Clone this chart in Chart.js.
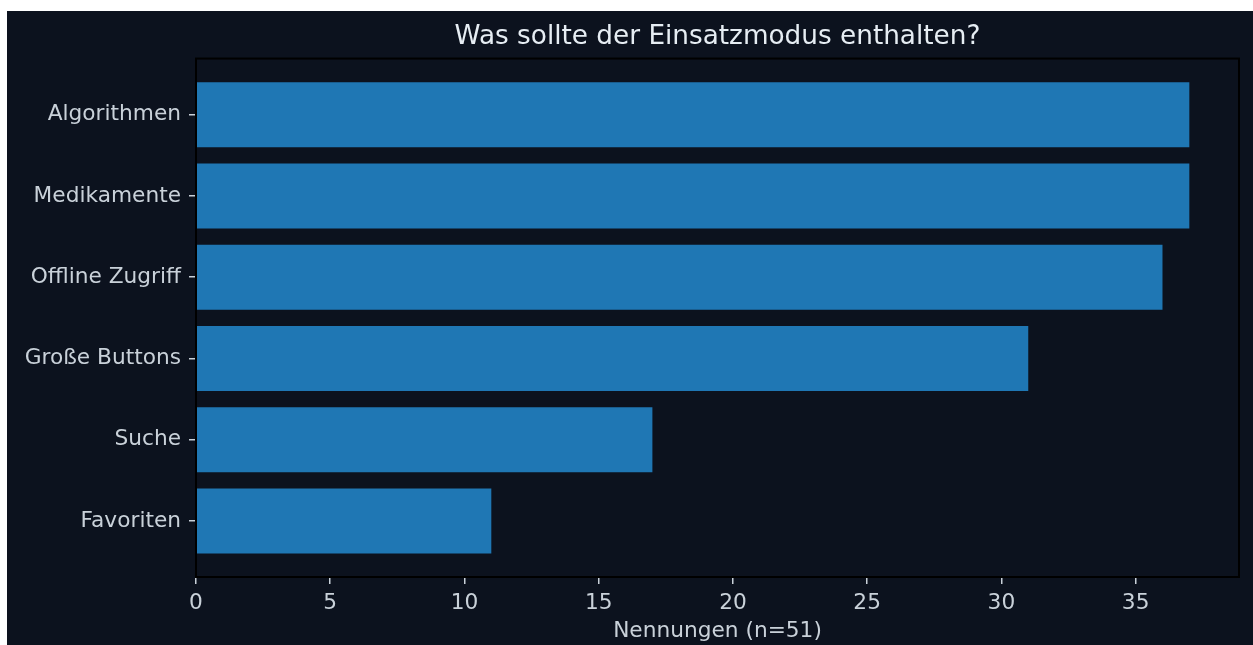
<!DOCTYPE html>
<html>
<head>
<meta charset="utf-8">
<script src="https://cdn.jsdelivr.net/npm/chart.js@4"></script>
<style>
  html, body { margin: 0; padding: 0; background: #ffffff; }
  #rahmen { position: absolute; left: 7px; top: 11px; width: 1246px; height: 634px; background: #0c121e; }
</style>
</head>
<body>
<div id="rahmen"><canvas id="myChart" width="1246" height="634"></canvas></div>
<script>
// Daten aus der Umfrage
const kategorien = ["Algorithmen", "Medikamente", "Offline Zugriff", "Große Buttons", "Suche", "Favoriten"];
const nennungen = [37, 37, 36, 31, 17, 11];
const xTicks = [0, 5, 10, 15, 20, 25, 30, 35];

const titel = "Was sollte der Einsatzmodus enthalten?";
const xTitel = "Nennungen (n=51)";

const textFarbe = "#c9d1d9";

// Rahmen um die Zeichenfläche (wie bei matplotlib)
const rahmenPlugin = {
  id: "rahmen",
  afterDatasetsDraw(chart) {
    const { ctx, chartArea } = chart;
    ctx.save();
    ctx.strokeStyle = "#000000";
    ctx.lineWidth = 2;
    ctx.strokeRect(chartArea.left, chartArea.top, chartArea.right - chartArea.left, chartArea.bottom - chartArea.top);
    ctx.restore();
  }
};

const ctx = document.getElementById("myChart").getContext("2d");
const myChart = new Chart(ctx, {
  type: "bar",
  data: {
    datasets: [
      {
        data: nennungen.map((wert, i) => ({ x: wert, y: i })),
        backgroundColor: "#1f77b4",
        borderWidth: 0,
        barPercentage: 0.8,
        categoryPercentage: 1
      }
    ]
  },
  options: {
    indexAxis: "y",
    responsive: false,
    animation: false,
    layout: { padding: { left: 0, right: 14, top: 0, bottom: 0 } },
    plugins: {
      legend: { display: false },
      tooltip: { enabled: false },
      title: {
        display: true,
        text: titel,
        fullSize: false,
        color: "#e6edf3",
        font: { family: "DejaVu Sans", size: 26.3, weight: "normal" },
        padding: { top: 10, bottom: 6 }
      }
    },
    scales: {
      x: {
        type: "linear",
        min: 0,
        max: 38.85,
        afterBuildTicks: (axis) => { axis.ticks = xTicks.map((v) => ({ value: v })); },
        afterFit: (scale) => { scale.height = 68; },
        grid: { drawOnChartArea: false, drawTicks: true, tickLength: 7, color: textFarbe, lineWidth: 1.5 },
        border: { display: false },
        ticks: { color: textFarbe, padding: 6, font: { family: "DejaVu Sans", size: 21.7 } },
        title: { display: true, text: xTitel, color: textFarbe, font: { family: "DejaVu Sans", size: 21.7 }, padding: { top: 0, bottom: 1 } }
      },
      y: {
        type: "linear",
        reverse: true,
        offset: false,
        min: -0.69,
        max: 5.69,
        afterBuildTicks: (axis) => { axis.ticks = kategorien.map((_, i) => ({ value: i })); },
        afterFit: (scale) => { scale.width = 189; },
        grid: { offset: false, drawOnChartArea: false, drawTicks: true, tickLength: 7, color: textFarbe, lineWidth: 1.5 },
        border: { display: false },
        ticks: {
          color: textFarbe,
          padding: 8,
          font: { family: "DejaVu Sans", size: 21.7 },
          callback: (wert) => kategorien[wert]
        }
      }
    }
  },
  plugins: [rahmenPlugin]
});
</script>
</body>
</html>
